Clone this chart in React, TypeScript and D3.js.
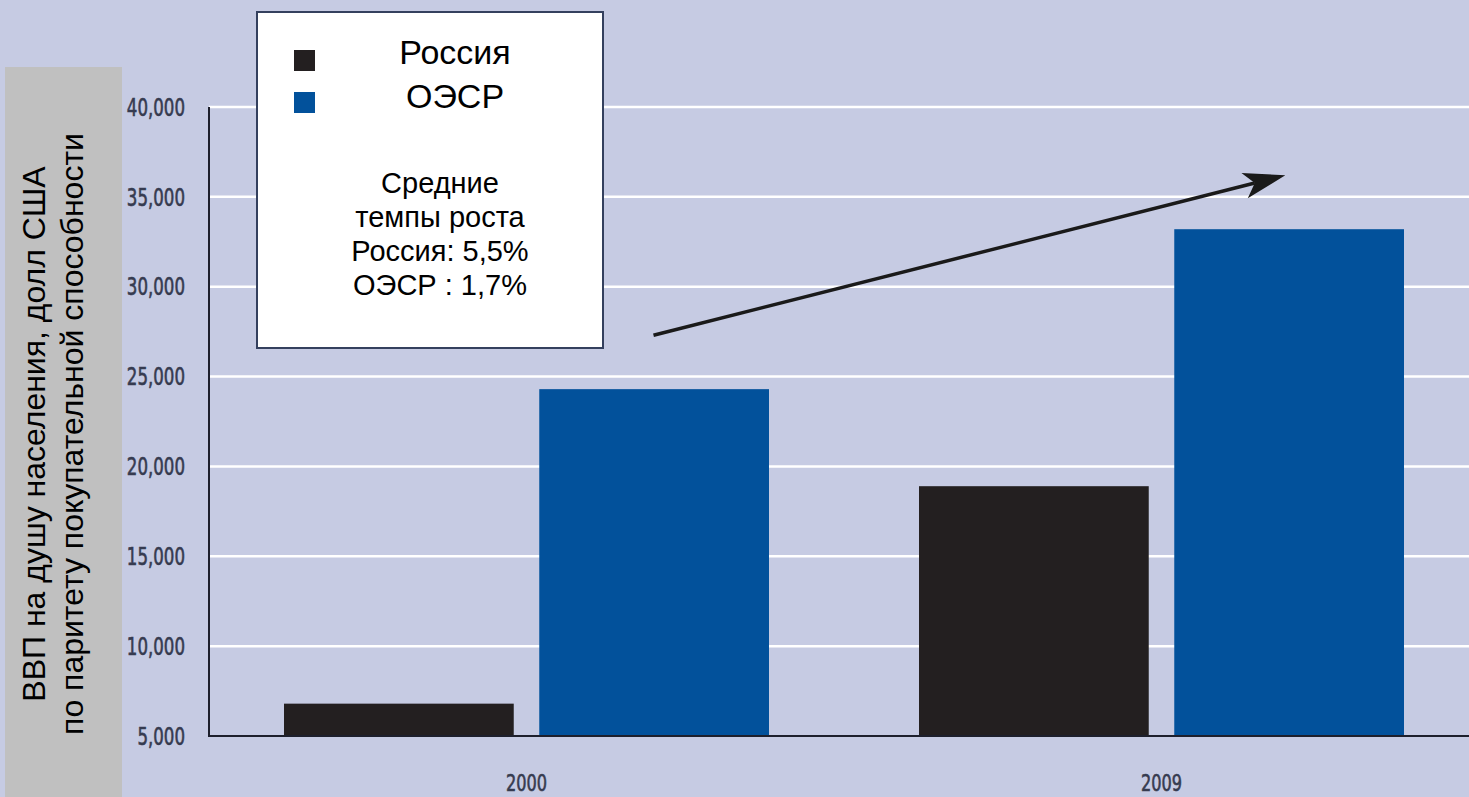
import * as d3 from 'd3'

const years = ['2000', '2009']
const seriesNames = ['Россия', 'ОЭСР']
const russia = [6800, 18900]
const oecd = [24300, 33200]
const yTicks = [5000, 10000, 15000, 20000, 25000, 30000, 35000, 40000]
const yTitle = ['ВВП на душу населения, долл США', 'по паритету покупательной способности']
const noteLines = ['Средние', 'темпы роста', 'Россия: 5,5%', 'ОЭСР : 1,7%']
// growth arrow, in data units: [year, offset in band steps, value]
const arrowFrom: [string, number, number] = ['2000', 0.2, 27300]
const arrowTo: [string, number, number] = ['2009', 0.195, 36200]

const colors = ['#231f20', '#02519b']
const W = 1469
const H = 797
const narrow = "'DejaVu Sans Condensed', 'DejaVu Sans', sans-serif"
const sans = "'Liberation Sans', Arial, sans-serif"

export default function App() {
  const x0 = d3.scaleBand<string>().domain(years).range([209, 1479]).padding(0)
  const x1 = d3.scaleBand<string>().domain(seriesNames).range([0, 485]).paddingInner(0.1)
  const y = d3.scaleLinear().domain([5000, 40000]).range([736, 107])
  const fmt = d3.format(',')
  const groupOffset = (x0.bandwidth() - 485) / 2
  const values = [russia, oecd]

  const ax = (p: [string, number, number]) => x0(p[0])! + x0.bandwidth() / 2 + p[1] * x0.step()
  const sx = ax(arrowFrom), sy = y(arrowFrom[2])
  const ex = ax(arrowTo), ey = y(arrowTo[2])
  const ang = Math.atan2(ey - sy, ex - sx)
  const headLen = 42
  const headHalf = 13
  const rot = (px: number, py: number) => [
    ex + px * Math.cos(ang) - py * Math.sin(ang),
    ey + px * Math.sin(ang) + py * Math.cos(ang),
  ]
  const head = [rot(0, 0), rot(-headLen, -headHalf), rot(-headLen * 0.75, 0), rot(-headLen, headHalf)]
  const lineEnd = rot(-headLen * 0.75, 0)

  return (
    <svg width={W} height={H} style={{ position: 'absolute', left: 0, top: 0, display: 'block' }}>
      <rect x={0} y={0} width={W} height={H} fill="#c6cbe3" />

      {/* grey title panel */}
      <rect x={5} y={67} width={117} height={H - 67} fill="#c0c0c0" />
      {yTitle.map((t, i) => (
        <text
          key={t}
          transform={`translate(${45 + i * 38},434) rotate(-90)`}
          textAnchor="middle"
          fontFamily={sans}
          fontSize={32}
          fill="#000"
        >
          {t}
        </text>
      ))}

      {/* grid */}
      {yTicks.slice(1).map((t) => (
        <line key={t} x1={209} x2={W} y1={y(t)} y2={y(t)} stroke="#ffffff" strokeWidth={2.5} />
      ))}
      {yTicks.map((t) => (
        <g key={t} transform={`translate(185,${y(t)}) scale(0.77,1)`}>
          <text
            dy="0.36em"
            textAnchor="end"
            fontFamily={narrow}
            fontSize={24}
            fill="#363b50"
            stroke="#363b50"
            strokeWidth={0.6}
          >
            {fmt(t)}
          </text>
        </g>
      ))}

      {/* bars */}
      {years.map((yr, i) => (
        <g key={yr} transform={`translate(${x0(yr)! + groupOffset},0)`}>
          {seriesNames.map((s, j) => (
            <rect
              key={s}
              x={x1(s)}
              y={y(values[j][i])}
              width={x1.bandwidth()}
              height={y(5000) - y(values[j][i])}
              fill={colors[j]}
            />
          ))}
        </g>
      ))}

      {/* axes */}
      <line x1={209} x2={209} y1={y(40000)} y2={y(5000) + 1} stroke="#1d1f2c" strokeWidth={2} />
      <line x1={209} x2={W} y1={y(5000)} y2={y(5000)} stroke="#1d1f2c" strokeWidth={2} />
      {years.map((yr) => (
        <g key={yr} transform={`translate(${x0(yr)! + x0.bandwidth() / 2},791) scale(0.78,1)`}>
          <text
            textAnchor="middle"
            fontFamily={narrow}
            fontSize={23}
            fill="#363b50"
            stroke="#363b50"
            strokeWidth={0.6}
          >
            {yr}
          </text>
        </g>
      ))}

      {/* growth arrow */}
      <line x1={sx} y1={sy} x2={lineEnd[0]} y2={lineEnd[1]} stroke="#1a1a1a" strokeWidth={3.5} />
      <path d={`M${head.map((p) => p.join(',')).join('L')}Z`} fill="#1a1a1a" />

      {/* legend box */}
      <rect x={257} y={12} width={346} height={336} fill="#ffffff" stroke="#34405e" strokeWidth={2} />
      {seriesNames.map((s, j) => (
        <g key={s}>
          <rect x={294} y={50 + j * 42} width={21} height={21} fill={colors[j]} />
          <text x={455} y={64 + j * 44} textAnchor="middle" fontFamily={sans} fontSize={34} fill="#000">
            {s}
          </text>
        </g>
      ))}
      {noteLines.map((t, i) => (
        <text key={t} x={440} y={193 + i * 34} textAnchor="middle" fontFamily={sans} fontSize={29} fill="#000">
          {t}
        </text>
      ))}
    </svg>
  )
}
